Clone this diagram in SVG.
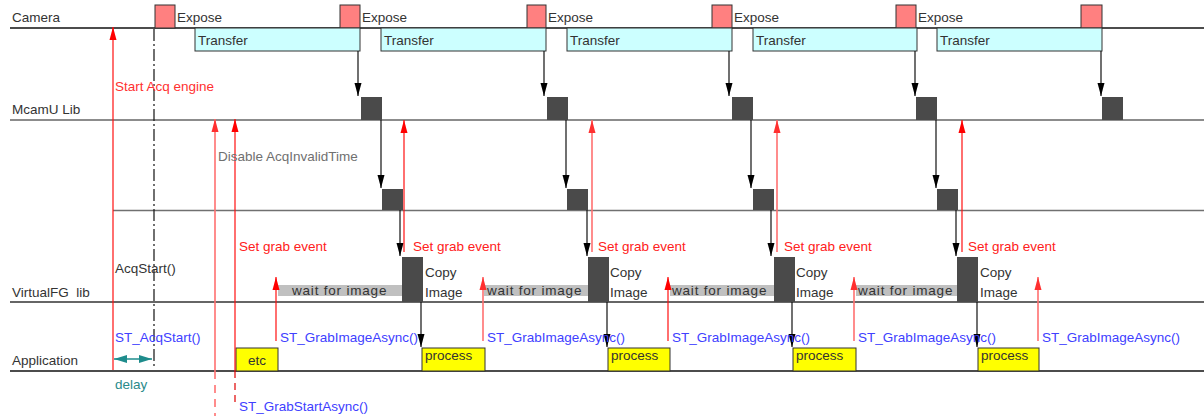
<svg xmlns="http://www.w3.org/2000/svg" width="1204" height="416" viewBox="0 0 1204 416">
<style>
text{font-family:"Liberation Sans",Arial,sans-serif;font-size:13.5px;fill:#333}
.lane{stroke-width:1.3;fill:none}
.exp{fill:#FF8080;stroke:#333;stroke-width:1}
.tr{fill:#CCFFFF;stroke:#333;stroke-width:1}
.blk{fill:#4a4a4a}
.proc{fill:#FFFF00;stroke:#333;stroke-width:1}
.wait{fill:#C0C0C0}
.bk{stroke:#111;stroke-width:1.2;fill:none;marker-end:url(#ab)}
.rd{stroke:#FF1010;stroke-width:1.2;fill:none;marker-end:url(#ar)}
.rl{stroke:#FF7070;stroke-width:1.6;fill:none;marker-end:url(#arl)}
.red{fill:#FF2020}
.blue{fill:#4040FF}
</style>
<defs>
<marker id="ab" markerUnits="userSpaceOnUse" markerWidth="13" markerHeight="8" refX="13" refY="4" orient="auto"><path d="M0,0.5 L13,4 L0,7.5 z" fill="#000"/></marker>
<marker id="ar" markerUnits="userSpaceOnUse" markerWidth="13" markerHeight="8" refX="13" refY="4" orient="auto"><path d="M0,0.5 L13,4 L0,7.5 z" fill="#FF0000"/></marker>
<marker id="arl" markerUnits="userSpaceOnUse" markerWidth="13" markerHeight="8" refX="13" refY="4" orient="auto"><path d="M0,0.5 L13,4 L0,7.5 z" fill="#FF3030"/></marker>
<marker id="at" markerUnits="userSpaceOnUse" markerWidth="13" markerHeight="9" refX="13" refY="4.5" orient="auto-start-reverse"><path d="M0,0.5 L13,4.5 L0,8.5 z" fill="#1E8C8C"/></marker>
</defs>

<g id="lanes">
<line class="lane" x1="10" y1="28" x2="1204" y2="28" stroke="#111"/>
<line class="lane" x1="10" y1="120" x2="1204" y2="120" stroke="#666"/>
<line class="lane" x1="113" y1="210.5" x2="1204" y2="210.5" stroke="#707070" stroke-width="1.6"/>
<line class="lane" x1="10" y1="302" x2="1204" y2="302" stroke="#333"/>
<line class="lane" x1="10" y1="371" x2="1204" y2="371" stroke="#111"/>
<text x="12" y="22">Camera</text>
<text x="12" y="114">McamU Lib</text>
<text x="12" y="297" xml:space="preserve">VirtualFG  lib</text>
<text x="12" y="365">Application</text>
</g>

<g id="camera">
<rect class="exp" x="155" y="5" width="20" height="23"/><text x="177" y="22">Expose</text>
<rect class="exp" x="340" y="5" width="20" height="23"/><text x="362" y="22">Expose</text>
<rect class="exp" x="527" y="5" width="19" height="23"/><text x="548" y="22">Expose</text>
<rect class="exp" x="712" y="5" width="20" height="23"/><text x="734" y="22">Expose</text>
<rect class="exp" x="896" y="5" width="20" height="23"/><text x="918" y="22">Expose</text>
<rect class="exp" x="1081" y="5" width="21" height="23"/>
</g>

<g id="transfer">
<rect class="tr" x="195" y="28" width="165" height="23"/><text x="198" y="45">Transfer</text>
<rect class="tr" x="381" y="28" width="165" height="23"/><text x="384" y="45">Transfer</text>
<rect class="tr" x="567" y="28" width="165" height="23"/><text x="570" y="45">Transfer</text>
<rect class="tr" x="753" y="28" width="164" height="23"/><text x="756" y="45">Transfer</text>
<rect class="tr" x="937" y="28" width="165" height="23"/><text x="940" y="45">Transfer</text>
</g>

<g id="mcamu-blocks">
<rect class="blk" x="361" y="97" width="21" height="23"/>
<rect class="blk" x="547" y="97" width="21" height="23"/>
<rect class="blk" x="732" y="97" width="21" height="23"/>
<rect class="blk" x="916" y="97" width="21" height="23"/>
<rect class="blk" x="1102" y="97" width="21" height="23"/>
</g>

<g id="mid-blocks">
<rect class="blk" x="382" y="189" width="21" height="21"/>
<rect class="blk" x="567" y="189" width="21" height="21"/>
<rect class="blk" x="753" y="189" width="21" height="21"/>
<rect class="blk" x="937" y="189" width="21" height="21"/>
</g>

<g id="wait-bars">
<rect class="wait" x="278" y="285" width="124" height="11"/><text x="292" y="295" letter-spacing="0.8">wait for image</text>
<rect class="wait" x="484" y="285" width="104" height="11"/><text x="487" y="295" letter-spacing="0.8">wait for image</text>
<rect class="wait" x="670" y="285" width="104" height="11"/><text x="672" y="295" letter-spacing="0.8">wait for image</text>
<rect class="wait" x="856" y="285" width="101" height="11"/><text x="858" y="295" letter-spacing="0.8">wait for image</text>
</g>

<g id="vfg-blocks">
<rect class="blk" x="402" y="257" width="21" height="45"/><text x="425" y="277">Copy</text><text x="425" y="297">Image</text>
<rect class="blk" x="588" y="257" width="21" height="45"/><text x="610" y="277">Copy</text><text x="610" y="297">Image</text>
<rect class="blk" x="774" y="257" width="21" height="45"/><text x="796" y="277">Copy</text><text x="796" y="297">Image</text>
<rect class="blk" x="957" y="257" width="21" height="45"/><text x="980" y="277">Copy</text><text x="980" y="297">Image</text>
</g>

<g id="app-boxes">
<rect class="proc" x="236" y="348" width="42" height="23"/><text x="248" y="365">etc</text>
<rect class="proc" x="422" y="348" width="63" height="23"/><text x="425" y="360">process</text>
<rect class="proc" x="608" y="348" width="62" height="23"/><text x="611" y="360">process</text>
<rect class="proc" x="793" y="348" width="63" height="23"/><text x="796" y="360">process</text>
<rect class="proc" x="978" y="348" width="61" height="23"/><text x="981" y="360">process</text>
</g>

<g id="connectors">
<line class="rd" x1="113" y1="370" x2="113" y2="27"/>
<line x1="154" y1="29" x2="154" y2="366" stroke="#111" stroke-width="1.2" stroke-dasharray="12,3,2,3"/>
<line class="rl" x1="215" y1="371" x2="215" y2="119"/>
<line x1="215" y1="371" x2="215" y2="416" stroke="#FF7070" stroke-width="1.6" stroke-dasharray="8,6"/>
<line class="rd" x1="235" y1="371" x2="235" y2="119" stroke="#E00000"/>
<line x1="235" y1="371" x2="235" y2="406" stroke="#E00000" stroke-width="1.2" stroke-dasharray="7,5"/>
<line x1="114" y1="359" x2="152" y2="359" stroke="#1E8C8C" stroke-width="1.5" marker-start="url(#at)" marker-end="url(#at)"/>

<line class="bk" x1="358" y1="51" x2="358" y2="96"/>
<line class="bk" x1="544" y1="51" x2="544" y2="96"/>
<line class="bk" x1="729" y1="51" x2="729" y2="96"/>
<line class="bk" x1="915" y1="51" x2="915" y2="96" stroke="#555"/>
<line class="bk" x1="1101" y1="51" x2="1101" y2="96" stroke="#555"/>

<line class="bk" x1="381" y1="120" x2="381" y2="188"/>
<line class="bk" x1="566" y1="120" x2="566" y2="188"/>
<line class="bk" x1="751" y1="120" x2="751" y2="188" stroke="#444"/>
<line class="bk" x1="936" y1="120" x2="936" y2="188" stroke="#444"/>

<line class="bk" x1="400" y1="210" x2="400" y2="256"/>
<line class="bk" x1="587" y1="210" x2="587" y2="256"/>
<line class="bk" x1="771" y1="210" x2="771" y2="256"/>
<line class="bk" x1="956" y1="210" x2="956" y2="256"/>

<line class="bk" x1="421" y1="302" x2="421" y2="347"/>
<line class="bk" x1="607" y1="302" x2="607" y2="347"/>
<line class="bk" x1="792" y1="302" x2="792" y2="347"/>
<line class="bk" x1="977" y1="302" x2="977" y2="347"/>

<line class="rd" x1="404" y1="252" x2="404" y2="120"/>
<line class="rl" x1="592" y1="252" x2="592" y2="120"/>
<line class="rl" x1="777" y1="252" x2="777" y2="120"/>
<line class="rd" x1="962" y1="252" x2="962" y2="120"/>

<line class="rd" x1="276" y1="341" x2="276" y2="277"/>
<line class="rl" x1="483" y1="341" x2="483" y2="277"/>
<line class="rd" x1="668" y1="341" x2="668" y2="277"/>
<line class="rl" x1="854" y1="341" x2="854" y2="277"/>
<line class="rl" x1="1038" y1="341" x2="1038" y2="277"/>
</g>

<g id="labels">
<text x="115" y="91" style="fill:#FF3030">Start Acq engine</text>
<text x="218" y="161" style="fill:#707070">Disable AcqInvalidTime</text>
<text x="115" y="273">AcqStart()</text>
<text class="blue" x="115" y="342">ST_AcqStart()</text>
<text x="115" y="389" style="fill:#2A8A8A">delay</text>
<text class="blue" x="239" y="411">ST_GrabStartAsync()</text>
<text class="red" x="239" y="251">Set grab event</text>
<text class="red" x="413" y="251">Set grab event</text>
<text class="red" x="598" y="251">Set grab event</text>
<text class="red" x="784" y="251">Set grab event</text>
<text class="red" x="968" y="251">Set grab event</text>
<text class="blue" x="280" y="342">ST_GrabImageAsync()</text>
<text class="blue" x="487" y="342">ST_GrabImageAsync()</text>
<text class="blue" x="672" y="342">ST_GrabImageAsync()</text>
<text class="blue" x="858" y="342">ST_GrabImageAsync()</text>
<text class="blue" x="1042" y="342">ST_GrabImageAsync()</text>
</g>
</svg>
